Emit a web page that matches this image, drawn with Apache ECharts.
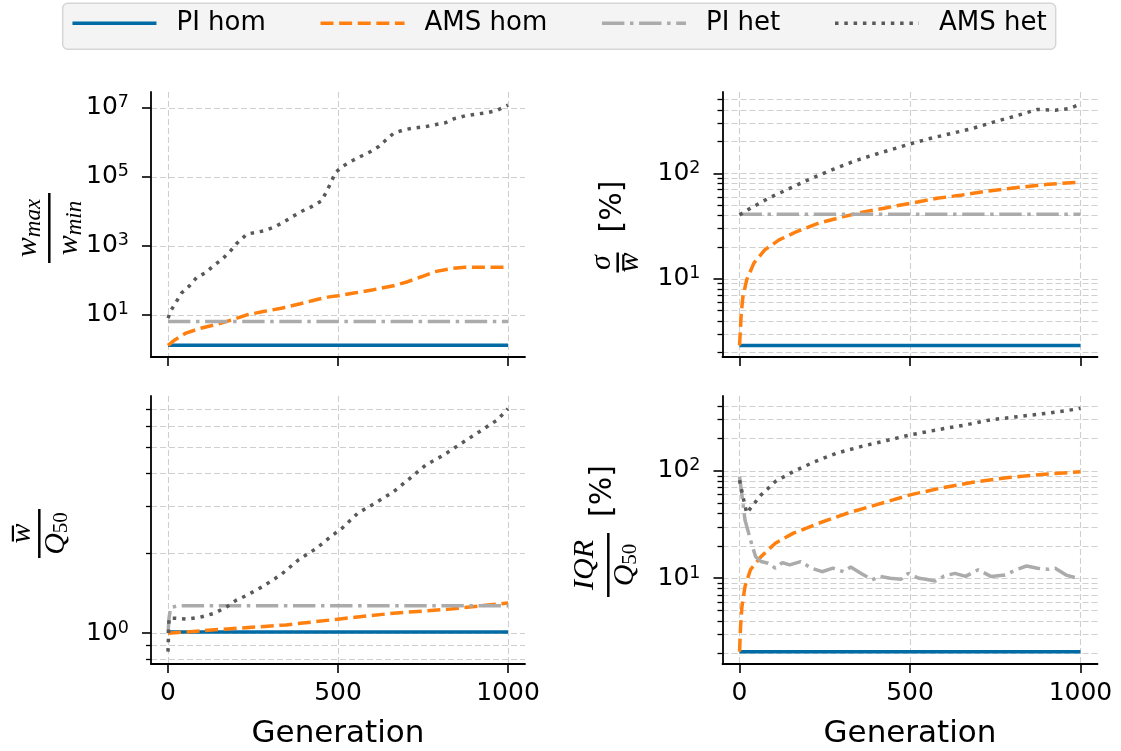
<!DOCTYPE html>
<html>
<head>
<meta charset="utf-8">
<script src="https://cdn.jsdelivr.net/npm/echarts@6/dist/echarts.min.js"></script>
<style>
html,body{margin:0;padding:0;background:#ffffff;}
#c{width:1121px;height:751px;}
</style>
</head>
<body>
<div id="c"></div>
<script>
// ---------------- DATA ----------------
const seriesNames = ['PI hom', 'AMS hom', 'PI het', 'AMS het'];
const generationTicks = [0, 500, 1000];

// Panel A: w_max / w_min
const aPIhom = [[0, 1.3], [1000, 1.3]];
const aAMShom = [[0,1.29],[21,1.9],[53,2.95],[95,4.07],[147,5.37],[189,7.16],[232,10],[284,12.6],[337,15.8],[389,20.9],[432,26.9],[474,33.1],[500,35.5],[547,42.7],[600,52.5],[663,69.2],[705,91.2],[747,129],[784,178],[832,219],[874,240],[926,240],[1000,240]];
const aPIhet = [[0, 6.4], [1000, 6.4]];
const aAMShet = [[0,8],[10,14],[40,43],[63,69],[84,120],[110,166],[135,269],[160,417],[182,676],[200,1122],[232,2188],[284,2754],[316,3631],[342,5012],[368,7244],[395,10233],[421,13490],[451,19953],[465,35481],[479,67608],[492,131826],[514,204174],[542,295121],[568,398107],[595,537032],[621,776247],[642,1202264],[663,1819701],[695,2344229],[726,2630268],[763,2951209],[789,3311311],[816,3715352],[842,4897788],[874,5888437],[905,6606934],[937,7244360],[968,8511380],[1000,12022644]];
const aMajor = [10, 1e3, 1e5, 1e7];
const aMinor = [];

// Panel B: sigma / mean [%]
const bPIhom = [[0, 2.34], [1000, 2.34]];
const bAMShom = [[0,2.34],[2,3.06],[5,4.73],[10,6.81],[21,9.8],[42,14.1],[74,18.8],[116,23.4],[168,28.1],[232,33.7],[305,38.9],[368,43.4],[432,47.3],[500,52],[579,58],[653,62.4],[737,68.6],[821,73.7],[905,78.8],[1000,82.8]];
const bPIhet = [[0, 40.9], [1000, 40.9]];
const bAMShet = [[0,40.4],[32,46.7],[84,58],[147,72],[211,89.7],[274,109],[337,131],[400,152],[463,175],[500,190],[558,214],[621,239],[684,267],[747,308],[811,351],[874,404],[926,397],[968,412],[1000,455]];
const bMajor = [10, 100];
const bMinor = [2,3,4,5,6,7,8,9,20,30,40,50,60,70,80,90,200,300,400,500];

// Panel C: mean / Q50
const cPIhom = [[0, 1.01], [1000, 1.01]];
const cAMShom = [[0,1.0],[137,1.03],[347,1.075],[500,1.13],[663,1.19],[821,1.23],[1000,1.30]];
const cPIhet = [[0,1.0],[3,1.14],[8,1.25],[32,1.27],[1000,1.27]];
const cAMShet = [[0,0.853],[3,1.14],[21,1.14],[53,1.13],[95,1.149],[137,1.19],[174,1.26],[200,1.33],[232,1.39],[279,1.50],[332,1.66],[384,1.89],[437,2.09],[484,2.34],[511,2.48],[558,2.83],[611,3.10],[663,3.41],[705,3.77],[758,4.30],[811,4.69],[863,5.19],[916,5.74],[968,6.35],[1000,7.0]];
const cMajor = [1];
const cMinor = [0.8,0.9,2,3,4,5,6,7];

// Panel D: IQR / Q50 [%]
const dPIhom = [[0, 2.07], [1000, 2.07]];
const dAMShom = [[0,2.07],[3,3.55],[7,5.44],[16,8.36],[32,12],[63,15.9],[105,21.2],[158,26.3],[232,32.5],[316,40.3],[400,48.2],[500,59.7],[589,69],[684,78.4],[789,86.7],[895,93],[1000,98]];
const dPIhet = [[0,88.5],[5,66.5],[16,34.9],[32,22.8],[47,15.9],[63,14.3],[84,13.8],[105,12.4],[126,14],[147,13.3],[179,14.3],[211,12.4],[242,11.5],[274,12.4],[305,11.5],[326,12.7],[358,11],[389,9.65],[411,10.4],[442,10],[474,9.8],[495,11.1],[526,10],[547,9.8],[574,9.4],[600,10.5],[632,11.1],[663,10.4],[700,12],[737,10.4],[779,10.7],[811,12],[842,13],[874,12.4],[905,12.1],[926,12.4],[958,10.7],[1000,9.8]];
const dAMShet = [[0,82],[10,57.5],[21,40.4],[63,59.7],[105,79.5],[158,98.6],[221,122],[284,146],[358,169],[432,192],[500,216],[579,241],[663,268],[737,299],[821,321],[905,345],[989,376],[1000,384]];
const dMajor = [10, 100];
const dMinor = [2,3,4,5,6,7,8,9,20,30,40,50,60,70,80,90,200,300,400];

// ---------------- LAYOUT / STYLE ----------------
const FONT = 'DejaVu Sans';
const panels = [
  {grid:{left:151, top:92, width:374, height:265}, ymin:0.597, ymax:2.9e7, major:aMajor, minor:aMinor, xlabels:false,
   data:[aPIhom, aAMShom, aPIhet, aAMShet]},
  {grid:{left:722.5, top:92, width:375, height:265}, ymin:1.816, ymax:591, major:bMajor, minor:bMinor, xlabels:false,
   data:[bPIhom, bAMShom, bPIhet, bAMShet]},
  {grid:{left:151, top:396, width:374, height:268}, ymin:0.766, ymax:7.82, major:cMajor, minor:cMinor, xlabels:true,
   data:[cPIhom, cAMShom, cPIhet, cAMShet]},
  {grid:{left:722.5, top:396, width:375, height:268}, ymin:1.589, ymax:498, major:dMajor, minor:dMinor, xlabels:true,
   data:[dPIhom, dAMShom, dPIhet, dAMShet]}
];
const lineStyles = [
  {color:'#006BA4', type:'solid'},
  {color:'#FF800E', type:[13, 5.6]},
  {color:'#ABABAB', type:[22.4, 5.6, 3.5, 5.6]},
  {color:'#595959', type:[3.5, 5.8]}
];
const gridLine = {show:true, lineStyle:{color:'#cfcfcf', width:1.1, type:[6, 3]}};
const spine = {show:true, onZero:false, lineStyle:{color:'#000', width:1.8}};

const grids = [], xAxes = [], yAxes = [], series = [];
panels.forEach((p, i) => {
  grids.push(Object.assign({containLabel:false}, p.grid));
  xAxes.push({
    gridIndex:i, type:'value', min:-50, max:1050, position:'bottom',
    name: p.xlabels ? 'Generation' : '', nameLocation:'middle', nameGap:54,
    nameTextStyle:{fontFamily:FONT, fontSize:31, color:'#000'},
    axisLine:spine,
    axisTick:{show:true, customValues:generationTicks, length:9, lineStyle:{color:'#000', width:1.6}},
    axisLabel:{show:p.xlabels, customValues:generationTicks, fontFamily:FONT, fontSize:25, color:'#000', margin:17,
      formatter:v => String(v)},
    splitLine:gridLine
  });
  yAxes.push({
    gridIndex:i, type:'log', logBase:10, min:p.ymin, max:p.ymax, position:'left', offset:0,
    axisLine:spine,
    axisTick:{show:true, customValues:p.major, length:9, lineStyle:{color:'#000', width:1.6}},
    axisLabel:{show:true, customValues:p.major, margin:22, color:'#000',
      formatter:v => '{b|10}{s|' + Math.round(Math.log10(v)) + '}',
      rich:{b:{fontFamily:FONT, fontSize:25, color:'#000'},
            s:{fontFamily:FONT, fontSize:17.5, color:'#000', padding:[0,0,10,0]}}},
    splitLine:gridLine
  });
  yAxes.push({
    gridIndex:i, type:'log', logBase:10, min:p.ymin, max:p.ymax, position:'left', offset:0,
    axisLine:{show:false, onZero:false},
    axisTick:{show:p.minor.length > 0, customValues:p.minor.length ? p.minor : [p.ymin], length:5, lineStyle:{color:'#000', width:1.3}},
    axisLabel:{show:false},
    splitLine:{show:p.minor.length > 0, lineStyle:gridLine.lineStyle}
  });
  p.data.forEach((d, k) => {
    series.push({
      name:seriesNames[k], type:'line', xAxisIndex:i, yAxisIndex:2*i,
      data:d, showSymbol:false, symbol:'none', z:2 + k,
      itemStyle:{color:lineStyles[k].color},
      lineStyle:{color:lineStyles[k].color, width:3.5, type:lineStyles[k].type}
    });
  });
});

// axis-name fractions (math text)
const mi = {fontFamily:'Liberation Serif', fontStyle:'italic', fontSize:30, fill:'#000'};
const misub = {fontFamily:'Liberation Serif', fontStyle:'italic', fontSize:23, fill:'#000', padding:[12,0,0,0]};
const rmsub = {fontFamily:'Liberation Serif', fontSize:21, fill:'#000', padding:[12,0,0,0]};
const sans = {fontFamily:FONT, fontSize:30, fill:'#000'};
function bar(half, y) { return {type:'rect', shape:{x:-half, y:(y||0) - 1.25, width:2*half, height:2.5}, style:{fill:'#000'}}; }
function txt(x, y, text, va, extra) {
  return {type:'text', x:x, y:y, style:Object.assign({text:text, align:'center', verticalAlign:va,
    rich:{m:mi, s:misub, r:rmsub}, fontFamily:'Liberation Serif', fontSize:30, fill:'#000'}, extra||{})};
}
const graphics = [
  {type:'group', x:49.3, y:228, rotation:Math.PI/2, children:[
    bar(35),
    txt(0, -4, '{m|w}{s|max}', 'bottom'),
    txt(0, 2, '{m|w}{s|min}', 'top')
  ]},
  {type:'group', x:617.7, y:262.5, rotation:Math.PI/2, children:[
    bar(10),
    txt(0, -1, '{m|σ}', 'bottom'),
    {type:'rect', shape:{x:-8, y:4.5, width:16, height:2.2}, style:{fill:'#000'}},
    txt(0, -3, '{m|w}', 'top'),
    {type:'text', x:30, y:-4, style:Object.assign({text:'[%]', align:'left', verticalAlign:'middle'}, sans)}
  ]},
  {type:'group', x:39.3, y:533.5, rotation:Math.PI/2, children:[
    bar(24.5),
    {type:'rect', shape:{x:-8, y:-27.5, width:16, height:2.2}, style:{fill:'#000'}},
    txt(0, -2.5, '{m|w}', 'bottom'),
    txt(0, 0, '{m|Q}{r|50}', 'top')
  ]},
  {type:'group', x:608.3, y:565, rotation:Math.PI/2, children:[
    bar(32),
    txt(0, -8, '{m|IQR}', 'bottom'),
    txt(0, 0, '{m|Q}{r|50}', 'top'),
    {type:'text', x:48, y:-4.8, style:Object.assign({text:'[%]', align:'left', verticalAlign:'middle'}, sans)}
  ]}
];

const chart = echarts.init(document.getElementById('c'), null, {renderer:'canvas'});
chart.setOption({
  animation:false,
  backgroundColor:'#ffffff',
  legend:{
    data:seriesNames, left:62.7, top:3.3, orient:'horizontal',
    padding:[7, 9, 13, 8], itemGap:53, itemWidth:84, itemHeight:14,
    backgroundColor:'#f4f4f4', borderColor:'#d6d6d6', borderWidth:1.5, borderRadius:5,
    itemStyle:{opacity:0},
    lineStyle:{width:3.5},
    textStyle:{fontFamily:FONT, fontSize:26, color:'#000', padding:[0,0,0,15]}
  },
  grid:grids, xAxis:xAxes, yAxis:yAxes, series:series,
  graphic:graphics
});
</script>
</body>
</html>
